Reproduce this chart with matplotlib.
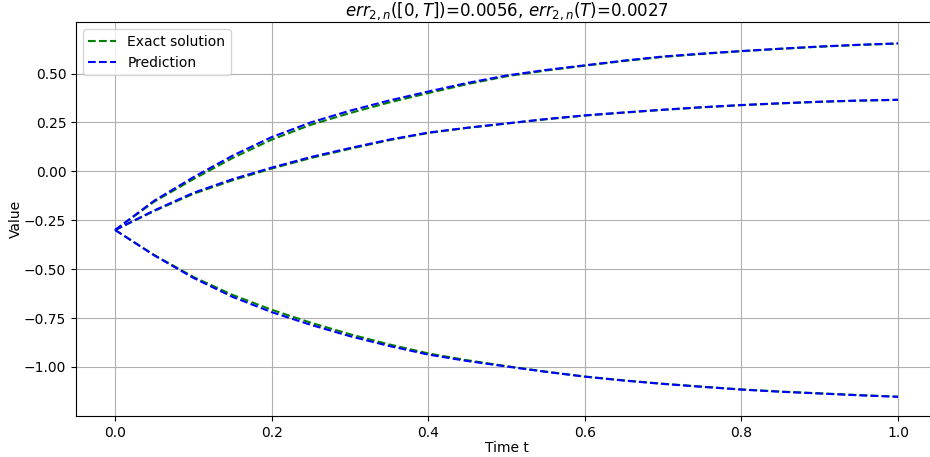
import matplotlib
matplotlib.use('Agg')
import matplotlib.pyplot as plt

# time grid
t = [0.0, 0.05, 0.1, 0.15, 0.2, 0.25, 0.3, 0.35, 0.4, 0.45, 0.5,
     0.55, 0.6, 0.65, 0.7, 0.75, 0.8, 0.85, 0.9, 0.95, 1.0]

# exact solution, three components
exact_1 = [-0.30, -0.155, -0.04, 0.068, 0.162, 0.238, 0.298, 0.352, 0.400, 0.446, 0.486,
           0.515, 0.540, 0.564, 0.585, 0.600, 0.614, 0.626, 0.637, 0.646, 0.653]
exact_2 = [-0.30, -0.203, -0.115, -0.046, 0.014, 0.068, 0.115, 0.159, 0.196, 0.222, 0.244,
           0.266, 0.285, 0.300, 0.314, 0.327, 0.338, 0.347, 0.355, 0.361, 0.365]
exact_3 = [-0.30, -0.428, -0.540, -0.632, -0.708, -0.774, -0.833, -0.885, -0.931, -0.966, -0.996,
           -1.024, -1.049, -1.069, -1.086, -1.101, -1.115, -1.126, -1.135, -1.144, -1.152]

# network prediction
pred_1 = [-0.30, -0.15, -0.03, 0.08, 0.175, 0.25, 0.31, 0.362, 0.408, 0.452, 0.49,
          0.518, 0.542, 0.566, 0.587, 0.602, 0.615, 0.627, 0.638, 0.647, 0.654]
pred_2 = [-0.30, -0.20, -0.11, -0.04, 0.019, 0.073, 0.119, 0.162, 0.198, 0.223, 0.245,
          0.267, 0.286, 0.301, 0.315, 0.328, 0.339, 0.348, 0.356, 0.362, 0.366]
pred_3 = [-0.30, -0.43, -0.545, -0.642, -0.72, -0.785, -0.843, -0.893, -0.937, -0.97, -0.998,
          -1.025, -1.05, -1.07, -1.087, -1.102, -1.116, -1.127, -1.136, -1.145, -1.153]

err_interval = 0.0056
err_final = 0.0027

fig = plt.figure(figsize=(9.3, 4.57), dpi=100)
# right edge of the axes sits just outside the picture, as in the reference crop
ax = fig.add_axes([0.0817, 0.0897, 0.926, 0.862])

pairs = [(exact_1, pred_1), (exact_2, pred_2), (exact_3, pred_3)]
for i, (ex, pr) in enumerate(pairs):
    ax.plot(t, ex, '--', color='green', linewidth=1.5,
            label='Exact solution' if i == 0 else None)
for i, (ex, pr) in enumerate(pairs):
    ax.plot(t, pr, '--', color='blue', linewidth=1.5,
            label='Prediction' if i == 0 else None)

ax.set_xlim(-0.05, 1.05)
ax.set_ylim(-1.251, 0.763)
ax.set_xticks([0.0, 0.2, 0.4, 0.6, 0.8, 1.0])
ax.set_yticks([-1.0, -0.75, -0.5, -0.25, 0.0, 0.25, 0.5])
ax.set_xlabel('Time t', labelpad=1)
ax.set_ylabel('Value', labelpad=0.5)
ax.set_title(rf'$err_{{2,n}}([0,T])$={err_interval}, $err_{{2,n}}(T)$={err_final}', pad=2.5)
ax.grid(True)
ax.legend(loc='upper left')

fig.savefig('out.png', dpi=100)
